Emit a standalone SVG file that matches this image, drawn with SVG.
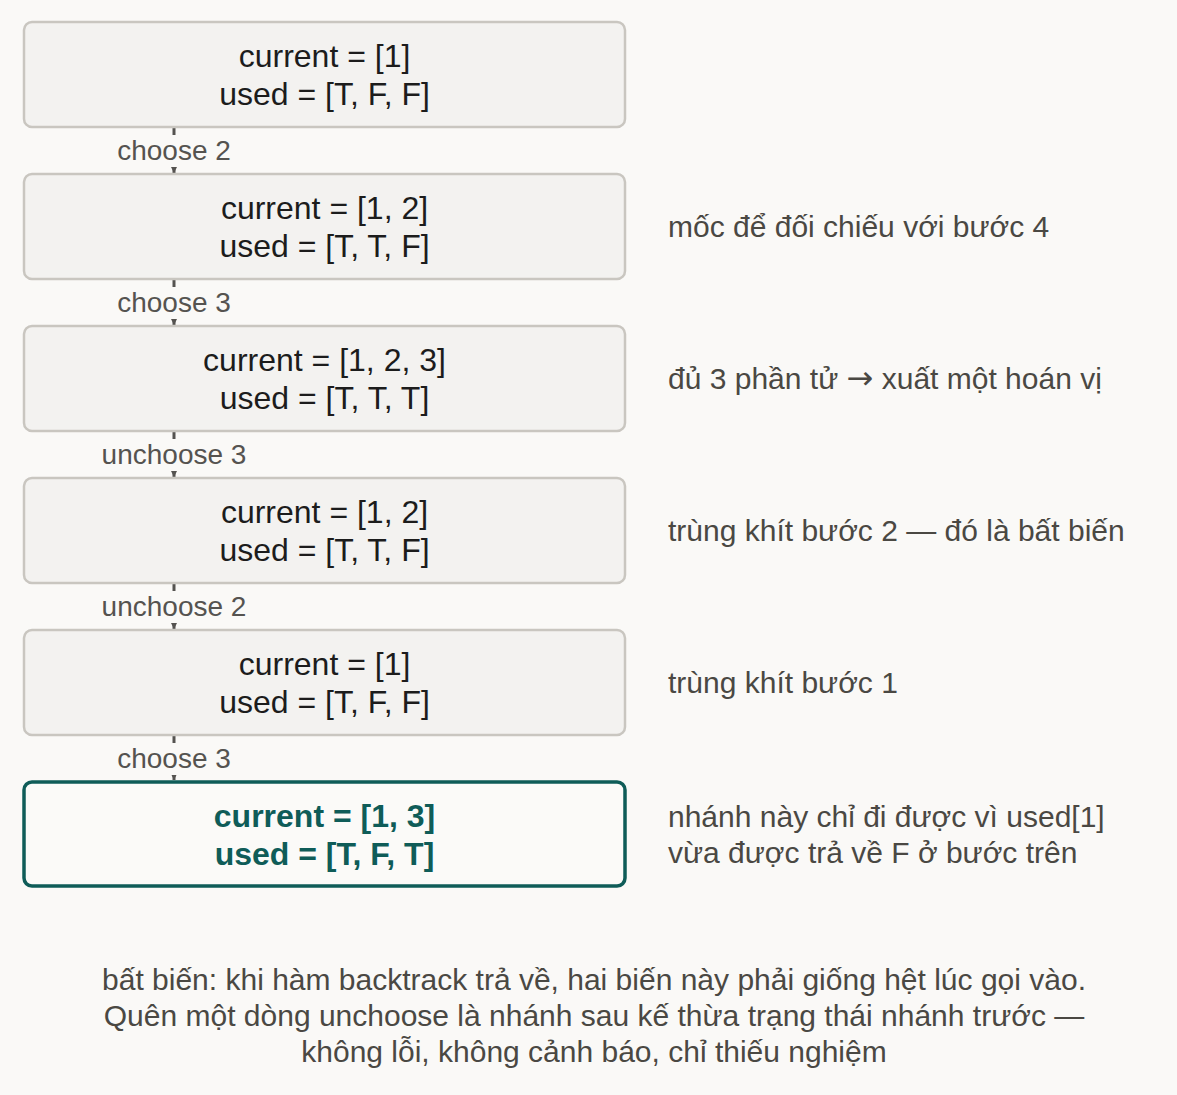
<svg xmlns="http://www.w3.org/2000/svg" width="1177" height="1095" viewBox="0 0 1177 1095">
<style>
text{font-family:"Liberation Sans",Arial,sans-serif}
.box{fill:#f3f2f0;stroke:#c9c6c0;stroke-width:2.5}
.hl{fill:#fbfaf8;stroke:#0f5c58;stroke-width:3.5}
.nt{font-size:32px;fill:#1c1c1c;text-anchor:middle}
.nth{font-size:32px;fill:#0f5c58;font-weight:bold;text-anchor:middle}
.ann{font-size:30px;fill:#4a4843}
.arr{font-family:"DejaVu Sans",sans-serif;font-size:32px}
.lbl{font-size:28px;fill:#555350;text-anchor:middle}
.lblbg{fill:#faf9f7}
.edge{stroke:#555350;stroke-width:3;fill:none}
.foot{font-size:30px;fill:#4a4843;text-anchor:middle}
</style>
<defs>
<marker id="ah" viewBox="0 0 10 10" refX="10" refY="5" markerWidth="2.2" markerHeight="2.2" orient="auto" markerUnits="strokeWidth">
<path d="M0,0 L10,5 L0,10 z" fill="#555350"/>
</marker>
</defs>
<rect width="1177" height="1095" fill="#faf9f7"/>
<g id="connectors">
<line class="edge" x1="174" y1="128" x2="174" y2="173" marker-end="url(#ah)"/>
<line class="edge" x1="174" y1="280" x2="174" y2="325" marker-end="url(#ah)"/>
<line class="edge" x1="174" y1="432" x2="174" y2="477" marker-end="url(#ah)"/>
<line class="edge" x1="174" y1="584" x2="174" y2="629" marker-end="url(#ah)"/>
<line class="edge" x1="174" y1="736" x2="174" y2="780" marker-end="url(#ah)"/>
<rect class="lblbg" x="108" y="135" width="132" height="32"/>
<text class="lbl" x="174" y="160">choose 2</text>
<rect class="lblbg" x="108" y="287" width="132" height="32"/>
<text class="lbl" x="174" y="312">choose 3</text>
<rect class="lblbg" x="94" y="439" width="160" height="32"/>
<text class="lbl" x="174" y="464">unchoose 3</text>
<rect class="lblbg" x="94" y="591" width="160" height="32"/>
<text class="lbl" x="174" y="616">unchoose 2</text>
<rect class="lblbg" x="108" y="743" width="132" height="32"/>
<text class="lbl" x="174" y="768">choose 3</text>
</g>
<g id="n1">
<rect class="box" x="24" y="22" width="601" height="105" rx="8"/>
<text class="nt" x="324.5" y="67">current = [1]</text>
<text class="nt" x="324.5" y="105">used = [T, F, F]</text>
</g>
<g id="n2">
<rect class="box" x="24" y="174" width="601" height="105" rx="8"/>
<text class="nt" x="324.5" y="219">current = [1, 2]</text>
<text class="nt" x="324.5" y="257">used = [T, T, F]</text>
<text class="ann" x="668" y="237">mốc để đối chiếu với bước 4</text>
</g>
<g id="n3">
<rect class="box" x="24" y="326" width="601" height="105" rx="8"/>
<text class="nt" x="324.5" y="371">current = [1, 2, 3]</text>
<text class="nt" x="324.5" y="409">used = [T, T, T]</text>
<text class="ann" x="668" y="389">đủ 3 phần tử <tspan class="arr">→</tspan> xuất một hoán vị</text>
</g>
<g id="n4">
<rect class="box" x="24" y="478" width="601" height="105" rx="8"/>
<text class="nt" x="324.5" y="523">current = [1, 2]</text>
<text class="nt" x="324.5" y="561">used = [T, T, F]</text>
<text class="ann" x="668" y="541">trùng khít bước 2 — đó là bất biến</text>
</g>
<g id="n5">
<rect class="box" x="24" y="630" width="601" height="105" rx="8"/>
<text class="nt" x="324.5" y="675">current = [1]</text>
<text class="nt" x="324.5" y="713">used = [T, F, F]</text>
<text class="ann" x="668" y="693">trùng khít bước 1</text>
</g>
<g id="n6">
<rect class="hl" x="24" y="782" width="601" height="104" rx="8"/>
<text class="nth" x="324.5" y="827">current = [1, 3]</text>
<text class="nth" x="324.5" y="865">used = [T, F, T]</text>
<text class="ann" x="668" y="827">nhánh này chỉ đi được vì used[1]</text>
<text class="ann" x="668" y="863">vừa được trả về F ở bước trên</text>
</g>
<g id="footer">
<text class="foot" x="594" y="990">bất biến: khi hàm backtrack trả về, hai biến này phải giống hệt lúc gọi vào.</text>
<text class="foot" x="594" y="1026">Quên một dòng unchoose là nhánh sau kế thừa trạng thái nhánh trước —</text>
<text class="foot" x="594" y="1062">không lỗi, không cảnh báo, chỉ thiếu nghiệm</text>
</g>
</svg>
